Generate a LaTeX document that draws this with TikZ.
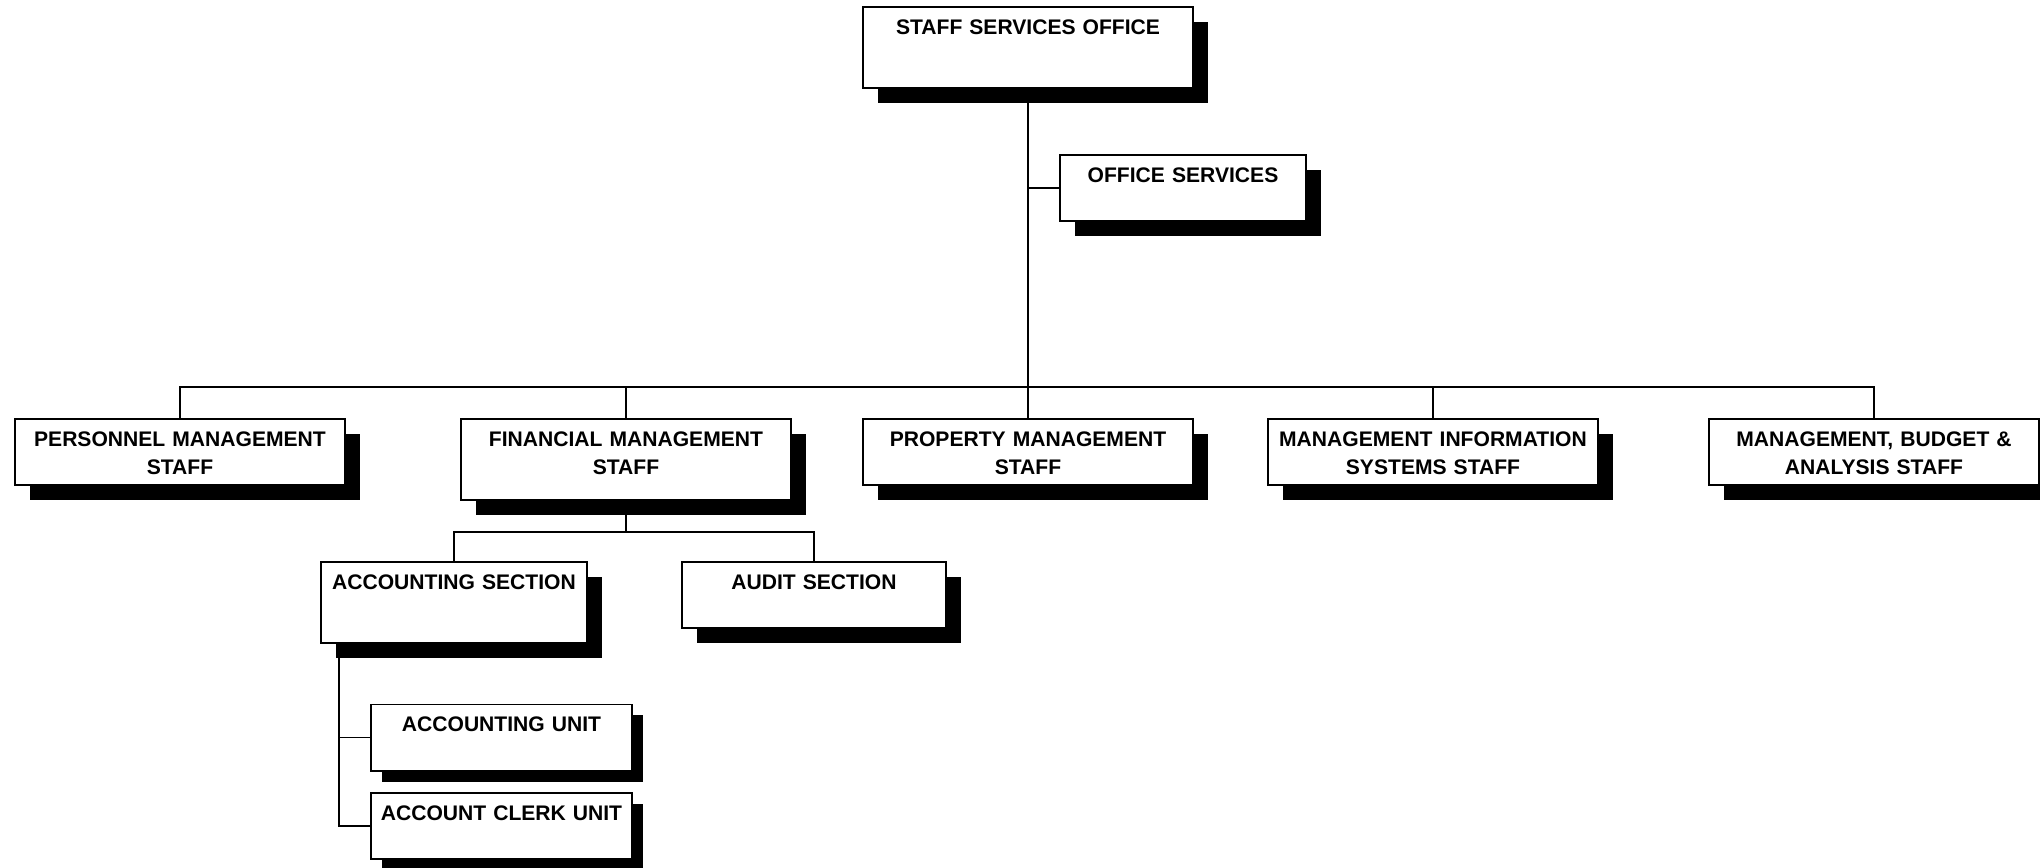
\documentclass[tikz,border=0pt]{standalone}
\usepackage{fontspec}
\setmainfont{Liberation Sans}
\usetikzlibrary{positioning, shadows}

\begin{document}
\begin{tikzpicture}[
      org/.style={rectangle, draw=black, fill=white, line width=1.1pt, inner sep=0pt, align=center, font=\bfseries\fontsize{12}{16.3}\selectfont, text height=15.4pt},
      deep/.style={org, text depth=30.7pt, drop shadow={shadow xshift=0.3cm, shadow yshift=-0.3cm, opacity=1, fill=black}},
      flat/.style={org, text depth=22.2pt, drop shadow={shadow xshift=0.3cm, shadow yshift=-0.3cm, opacity=1, fill=black}},
      unit/.style={org, text depth=22.2pt, drop shadow={shadow xshift=0.22cm, shadow yshift=-0.22cm, opacity=1, fill=black}},
      link/.style={line width=1.1pt, black},
    ]
    \useasboundingbox (0,0) rectangle (40.8,-17.34);

    \node[deep, text width=6.6cm] (sso) at (20.56,-0.95) {STAFF SERVICES OFFICE};
    \node[flat, text width=4.92cm] (os) at (23.66,-3.76) {OFFICE SERVICES};

    \node[flat, text width=6.6cm] (pers) at (3.6,-9.04) {PERSONNEL MANAGEMENT\\STAFF};
    \node[deep, text width=6.6cm] (fms) at (12.52,-9.19) {FINANCIAL MANAGEMENT\\STAFF};
    \node[flat, text width=6.6cm] (prop) at (20.56,-9.04) {PROPERTY MANAGEMENT\\STAFF};
    \node[flat, text width=6.6cm] (mis) at (28.66,-9.04) {MANAGEMENT INFORMATION\\SYSTEMS STAFF};
    \node[flat, text width=6.6cm] (mba) at (37.48,-9.04) {MANAGEMENT, BUDGET \&\\ANALYSIS STAFF};

    \node[deep, text width=5.32cm] (asec) at (9.08,-12.05) {ACCOUNTING SECTION};
    \node[flat, text width=5.28cm] (audit) at (16.28,-11.9) {AUDIT SECTION};

    \node[unit, text width=5.22cm] (au) at (10.03,-14.75) {ACCOUNTING UNIT};
    \node[unit, text width=5.22cm] (acu) at (10.03,-16.52) {ACCOUNT CLERK UNIT};

    \draw[link] (sso) -- (prop);
    \draw[link] (sso.south) |- (os.west);
    \draw[link] (pers.north) -- ++(0,0.62) -| (mba.north);
    \foreach \n in {fms, mis}
      \draw[link] (\n.north) -- ++(0,0.62);

    \draw[link] (fms.south) -- ++(0,-0.62) coordinate (fmsbus);
    \draw[link] (asec.north) |- (fmsbus) -| (audit.north);

    \coordinate (asecdrop) at ([xshift=0.38cm]asec.south west);
    \draw[link] (asecdrop) |- (au.west);
    \draw[link] (asecdrop) |- (acu.west);
  \end{tikzpicture}
\end{document}
